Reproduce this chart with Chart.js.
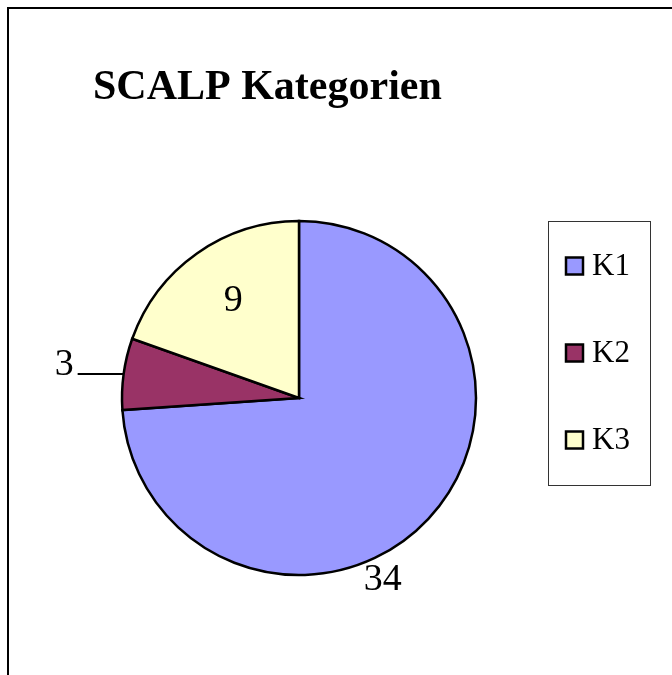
<!DOCTYPE html>
<html>
<head>
<meta charset="utf-8">
<script src="https://cdn.jsdelivr.net/npm/chart.js@4"></script>
<style>
  html, body { margin: 0; padding: 0; background: #fff; }
  #wrap { width: 672px; height: 675px; position: relative; }
</style>
</head>
<body>
<div id="wrap"><canvas id="c" width="672" height="675"></canvas></div>
<script>
const title = "SCALP Kategorien";
const categories = ["K1", "K2", "K3"];
const values = [34, 3, 9];
const colors = ["#9999FF", "#993366", "#FFFFCC"];

// label placement style: angle offset from slice middle (deg), radius factor
const labelStyle = [
  { dAngle: 22, rf: 1.12, leader: false },
  { dAngle: 0, rf: 1.0, leader: true },
  { dAngle: 1.5, rf: 0.67, leader: false }
];

const serif = '"Liberation Serif", "Times New Roman", serif';

const decor = {
  id: 'decor',
  beforeDraw(chart) {
    const ctx = chart.ctx;
    ctx.save();
    ctx.fillStyle = '#fff';
    ctx.fillRect(0, 0, chart.width, chart.height);
    ctx.strokeStyle = '#000';
    ctx.lineWidth = 2;
    ctx.strokeRect(8, 8, chart.width + 20, chart.height + 20);
    ctx.fillStyle = '#000';
    ctx.font = 'bold 42px ' + serif;
    ctx.textBaseline = 'alphabetic';
    ctx.textAlign = 'left';
    ctx.fillText(title, 93, 99);
    ctx.restore();
  },
  afterDraw(chart) {
    const ctx = chart.ctx;
    const meta = chart.getDatasetMeta(0);
    ctx.save();
    ctx.fillStyle = '#000';
    ctx.font = '38px ' + serif;
    meta.data.forEach((arc, i) => {
      const st = labelStyle[i];
      const mid = (arc.startAngle + arc.endAngle) / 2;
      const r = arc.outerRadius;
      if (st.leader) {
        const px = arc.x + r * Math.cos(mid);
        const py = arc.y + r * Math.sin(mid);
        const ex = px - 46;
        ctx.strokeStyle = '#000';
        ctx.lineWidth = 2;
        ctx.beginPath();
        ctx.moveTo(px, py);
        ctx.lineTo(ex, py);
        ctx.stroke();
        ctx.textAlign = 'right';
        ctx.textBaseline = 'alphabetic';
        ctx.fillText(String(values[i]), ex - 4, py + 1);
      } else {
        const a = mid + st.dAngle * Math.PI / 180;
        const x = arc.x + r * st.rf * Math.cos(a);
        const y = arc.y + r * st.rf * Math.sin(a);
        ctx.textAlign = 'center';
        ctx.textBaseline = 'middle';
        ctx.fillText(String(values[i]), x, y + 2);
      }
    });
    // legend
    const bx = 548, by = 221, bw = 102, bh = 264;
    ctx.strokeStyle = '#333';
    ctx.lineWidth = 1;
    ctx.strokeRect(bx + 0.5, by + 0.5, bw, bh);
    ctx.font = '31px ' + serif;
    ctx.textAlign = 'left';
    ctx.textBaseline = 'middle';
    categories.forEach((c, i) => {
      const cy = 265.5 + i * 87;
      ctx.fillStyle = colors[i];
      ctx.fillRect(566, cy - 8, 17, 17);
      ctx.strokeStyle = '#000';
      ctx.lineWidth = 2.5;
      ctx.strokeRect(566, cy - 8, 17, 17);
      ctx.fillStyle = '#000';
      ctx.fillText(c, 592, cy + 1);
    });
    ctx.restore();
  }
};

new Chart(document.getElementById('c'), {
  type: 'pie',
  data: {
    labels: categories,
    datasets: [{
      data: values,
      backgroundColor: colors,
      borderColor: '#000',
      borderWidth: 2.5,
      borderJoinStyle: 'miter'
    }]
  },
  options: {
    responsive: false,
    animation: false,
    radius: 177,
    layout: { padding: { left: 100, right: 174, top: 200, bottom: 79 } },
    plugins: {
      legend: { display: false },
      tooltip: { enabled: false },
      title: { display: false }
    }
  },
  plugins: [decor]
});
</script>
</body>
</html>
